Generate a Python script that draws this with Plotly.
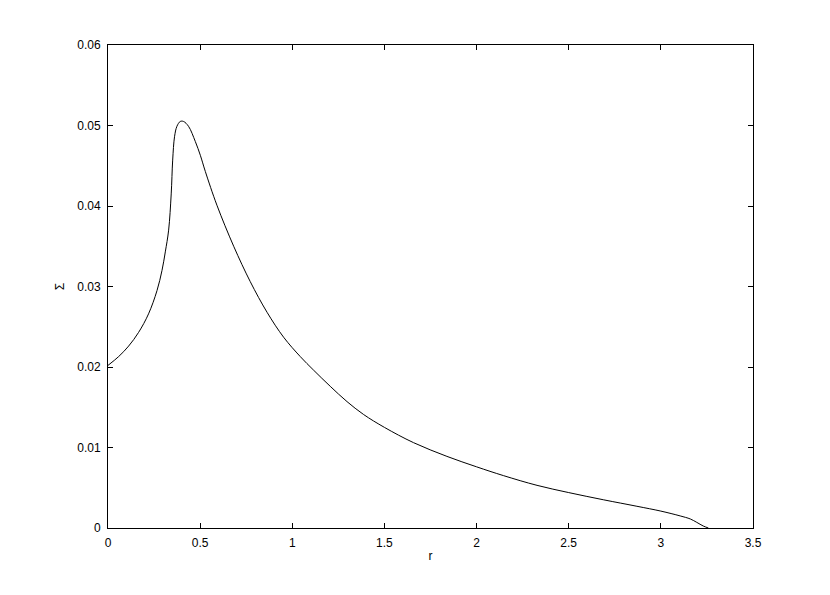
import plotly.graph_objects as go

# radius and surface density
r = [0, 0.058, 0.112, 0.166, 0.22, 0.266, 0.293, 0.311, 0.329, 0.343,
     0.351, 0.361, 0.374, 0.392, 0.41, 0.437, 0.474, 0.501, 0.528, 0.591,
     0.682, 0.772, 0.863, 0.953, 1.043, 1.116, 1.206, 1.297, 1.387, 1.5,
     1.658, 1.839, 2.0, 2.147, 2.328, 2.5, 2.69, 2.87, 3.0, 3.105, 3.16,
     3.195, 3.23, 3.258]
sigma = [0.0202, 0.0213, 0.0226, 0.0243, 0.0266, 0.0295, 0.0320, 0.0343,
         0.0370, 0.0415, 0.0457, 0.0486, 0.0499, 0.0505, 0.0505, 0.0499,
         0.0480, 0.0463, 0.0443, 0.0401, 0.0350, 0.0306, 0.0268, 0.0237,
         0.0213, 0.0196, 0.0176, 0.0157, 0.0141, 0.0125, 0.0106, 0.0089,
         0.0076, 0.0065, 0.0053, 0.0044, 0.0035, 0.0027, 0.0021, 0.0015,
         0.00112, 0.0007, 0.00025, 0.0]

x_ticks = [0, 0.5, 1, 1.5, 2, 2.5, 3, 3.5]
x_labels = ["0", "0.5", "1", "1.5", "2", "2.5", "3", "3.5"]
y_ticks = [0, 0.01, 0.02, 0.03, 0.04, 0.05, 0.06]
y_labels = ["0", "0.01", "0.02", "0.03", "0.04", "0.05", "0.06"]

fig = go.Figure()
fig.add_trace(go.Scatter(
    x=r, y=sigma, mode='lines',
    line=dict(color='black', width=1, shape='spline', smoothing=1.0),
    showlegend=False, hoverinfo='skip'
))

axis_style = dict(
    showline=True, linecolor='black', linewidth=1, mirror='allticks',
    ticks='inside', ticklen=5, tickwidth=1, tickcolor='black',
    showgrid=False, zeroline=False,
    tickfont=dict(family='Liberation Sans, Arial', size=12, color='black'),
)

# page body adds 8px, so margins are shifted to land the box where it should
fig.update_layout(
    width=830, height=595,
    plot_bgcolor='white', paper_bgcolor='white',
    margin=dict(l=100, r=85, t=37, b=75),
    font=dict(family='Liberation Sans, Arial', size=12, color='black'),
)
fig.update_xaxes(range=[0, 3.5], tickvals=x_ticks, ticktext=x_labels,
                 ticklabelstandoff=4,
                 title=dict(text='r', font=dict(size=12), standoff=2),
                 **axis_style)
fig.update_yaxes(range=[0, 0.06], tickvals=y_ticks, ticktext=y_labels,
                 ticklabelstandoff=4,
                 title=dict(text='Σ', font=dict(size=12), standoff=10),
                 **axis_style)

fig.write_html("out.html")
